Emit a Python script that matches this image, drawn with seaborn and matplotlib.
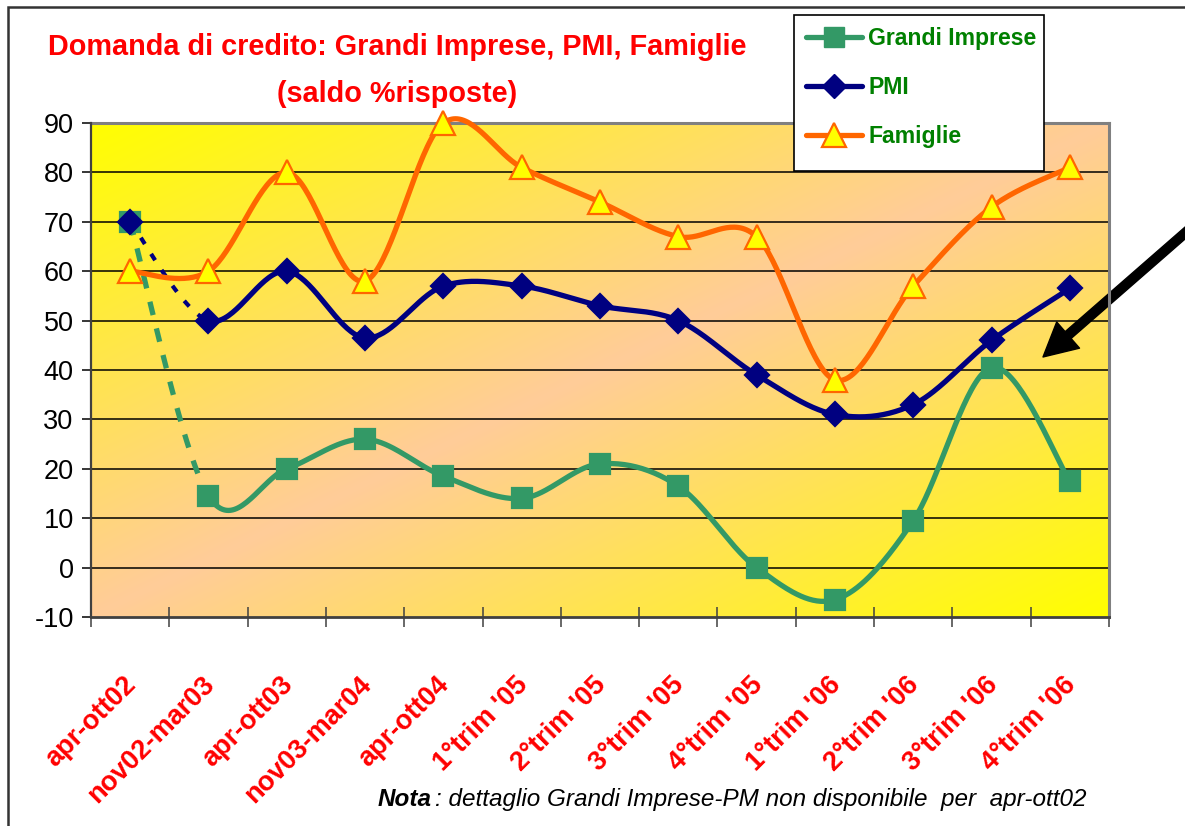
import numpy as np
import pandas as pd
import matplotlib
matplotlib.use("Agg")
import matplotlib.pyplot as plt
import matplotlib.patches as mpatches
from matplotlib.lines import Line2D
from matplotlib.transforms import ScaledTranslation
import seaborn as sns

# ---------------- data ----------------
categories = ["apr-ott02", "nov02-mar03", "apr-ott03", "nov03-mar04", "apr-ott04",
              "1°trim '05", "2°trim '05", "3°trim '05", "4°trim '05",
              "1°trim '06", "2°trim '06", "3°trim '06", "4°trim '06"]
grandi_imprese = [70, 14.5, 20, 26, 18.5, 14, 21, 16.5, 0, -6.5, 9.5, 40.5, 17.5]
pmi = [70, 50, 60, 46.5, 57, 57, 53, 50, 39, 31, 33, 46, 56.5]
famiglie = [60, 60, 80, 58, 90, 81, 74, 67, 67, 38, 57, 73, 81]
y_ticks = [-10, 0, 10, 20, 30, 40, 50, 60, 70, 80, 90]
series_names = ["Grandi Imprese", "PMI", "Famiglie"]
title_line1 = "Domanda di credito: Grandi Imprese, PMI, Famiglie"
title_line2 = "(saldo %risposte)"
note_bold = "Nota"
note_rest = ": dettaglio Grandi Imprese-PM non disponibile  per  apr-ott02"

# ---------------- style ----------------
sns.set_theme(style="white")
plt.rcParams['font.family'] = ['Liberation Sans', 'DejaVu Sans']
FONT = ['Liberation Sans', 'DejaVu Sans']

W, H = 1185, 826
fig = plt.figure(figsize=(W / 100, H / 100), dpi=100)
fig.patch.set_facecolor("white")

ax_l, ax_r, ax_t, ax_b = 91, 1109, 123, 617
ax = fig.add_axes([ax_l / W, 1 - ax_b / H, (ax_r - ax_l) / W, (ax_b - ax_t) / H])

n = len(categories)
xs = np.arange(n)
ax.set_xlim(-0.5, n - 0.5)
ax.set_ylim(-10, 90)

# gradient background (diagonal: yellow corners TL/BR, peach centre)
gx, gy = np.meshgrid(np.linspace(0, 1, 400), np.linspace(1, 0, 300))
u = (gx + (1 - gy)) / 2
tt = 1 - np.abs(2 * u - 1)
yellow = np.array([1.0, 1.0, 0.0])
peach = np.array([1.0, 0.8, 0.6])
img = yellow[None, None, :] * (1 - tt[..., None]) + peach[None, None, :] * tt[..., None]
ax.imshow(img, extent=[-0.5, n - 0.5, -10, 90], aspect='auto', zorder=0, interpolation='bilinear')

# grid
for v in y_ticks[1:-1]:
    ax.axhline(v, color='black', lw=1.1, zorder=1)


def bezier_segments(xv, yv, npts=40):
    P = np.column_stack([xv, yv]).astype(float)
    m = len(P)
    segs = []
    t = np.linspace(0, 1, npts)[:, None]
    for i in range(m - 1):
        p0 = P[max(i - 1, 0)]
        p1 = P[i]
        p2 = P[i + 1]
        p3 = P[min(i + 2, m - 1)]
        c1 = p1 + (p2 - p0) / 6
        c2 = p2 - (p3 - p1) / 6
        seg = (1 - t) ** 3 * p1 + 3 * (1 - t) ** 2 * t * c1 + 3 * (1 - t) * t ** 2 * c2 + t ** 3 * p2
        segs.append(seg)
    return segs


GREEN = "#339966"
NAVY = "#000080"
ORANGE = "#FF6600"
LW = 3.8

specs = [
    (grandi_imprese, GREEN, 's', GREEN, GREEN, 15, True, (0, (2.6, 2.6))),
    (pmi, NAVY, 'D', NAVY, NAVY, 12, True, (0, (1.8, 2.8))),
    (famiglie, ORANGE, '^', "#FFFF00", ORANGE, 17, False, None),
]

z = 3
for vals, col, mk, mfc, mec, ms, dashed_first, dash in specs:
    segs = bezier_segments(xs, vals)
    if dashed_first:
        s0 = segs[0]
        sns.lineplot(x=s0[:, 0], y=s0[:, 1], sort=False, estimator=None, ax=ax,
                     color=col, lw=LW if mk == 's' else 3.0, linestyle=dash, zorder=z)
        rest = np.vstack(segs[1:])
    else:
        rest = np.vstack(segs)
    sns.lineplot(x=rest[:, 0], y=rest[:, 1], sort=False, estimator=None, ax=ax,
                 color=col, lw=LW, zorder=z, solid_capstyle='round', clip_on=False)
    sns.lineplot(x=xs, y=vals, sort=False, estimator=None, ax=ax, color=col,
                 linestyle='', marker=mk, markersize=ms, markerfacecolor=mfc,
                 markeredgecolor=mec, markeredgewidth=1.6, zorder=z + 1, clip_on=False)
    z += 2

# axes styling
for side in ['top', 'right']:
    ax.spines[side].set_color('#808080')
    ax.spines[side].set_linewidth(2.2)
ax.spines['left'].set_color('#404040')
ax.spines['left'].set_linewidth(1.6)
ax.spines['bottom'].set_color('#404040')
ax.spines['bottom'].set_linewidth(2.0)
for side in ['left', 'bottom', 'right']:
    ax.spines[side].set_zorder(20)
ax.spines['top'].set_zorder(2)

ax.set_yticks(y_ticks)
ax.set_yticklabels([str(v) for v in y_ticks])
ax.tick_params(axis='y', which='major', direction='out', length=6.5, width=1.1,
               color='black', pad=6, labelsize=19.5, labelcolor='black', left=True)

ax.set_xticks(xs)
ax.set_xticklabels(categories, rotation=45, ha='right', va='top',
                   rotation_mode='anchor', fontsize=19.5, fontweight='bold', color='red')
ax.set_xticks(np.arange(-0.5, n, 1.0), minor=True)
ax.tick_params(axis='x', which='major', length=0, pad=39.5, bottom=True)
ax.tick_params(axis='x', which='minor', direction='inout', length=14, width=1.1,
               color='#404040', bottom=True)
off = ScaledTranslation(-7 / 100, 0, fig.dpi_scale_trans)
for lab in ax.get_xticklabels():
    lab.set_transform(lab.get_transform() + off)
ax.set_xlabel("")
ax.set_ylabel("")

# title
fig.text(397 / W, 1 - 55 / H, title_line1, ha='center', va='baseline', color='red',
         fontsize=20.8, fontweight='bold', family=FONT)
fig.text(397 / W, 1 - 102 / H, title_line2, ha='center', va='baseline', color='red',
         fontsize=20.8, fontweight='bold', family=FONT)

# legend box
leg_box = mpatches.Rectangle((794 / W, 1 - 171 / H), 250 / W, 156 / H, transform=fig.transFigure,
                             facecolor='white', edgecolor='black', lw=1.2, zorder=30)
fig.add_artist(leg_box)

handles = [
    Line2D([], [], color=GREEN, lw=LW, marker='s', markersize=15, markerfacecolor=GREEN,
           markeredgecolor=GREEN, solid_capstyle='round'),
    Line2D([], [], color=NAVY, lw=LW, marker='D', markersize=12, markerfacecolor=NAVY,
           markeredgecolor=NAVY, solid_capstyle='round'),
    Line2D([], [], color=ORANGE, lw=LW, marker='^', markersize=17, markerfacecolor="#FFFF00",
           markeredgecolor=ORANGE, markeredgewidth=1.6, solid_capstyle='round'),
]
leg = fig.legend(handles, series_names, loc='upper left',
                 bbox_to_anchor=(806 / W, 1 - 27 / H), bbox_transform=fig.transFigure,
                 frameon=False,
                 prop={'family': FONT, 'weight': 'bold', 'size': 16.6},
                 handlelength=2.45, handletextpad=0.25, labelspacing=1.13,
                 borderpad=0, borderaxespad=0, numpoints=1)
leg.set_zorder(31)
for txt in leg.get_texts():
    txt.set_color("#008000")

# note
t1 = fig.text(378 / W, 1 - 806 / H, note_bold, ha='left', va='baseline', fontsize=17.5,
              fontweight='bold', style='italic', color='black', family=FONT)
note2 = plt.annotate(note_rest, xy=(1, 0), xycoords=t1, xytext=(2, 0), textcoords='offset points',
                     ha='left', va='bottom', fontsize=17.5, style='italic', color='black',
                     family=FONT, annotation_clip=False)

# arrow
plt.annotate('', xy=(1043, H - 357), xycoords='figure pixels',
             xytext=(1200, H - 220), textcoords='figure pixels',
             arrowprops=dict(facecolor='black', edgecolor='black', width=6.5,
                             headwidth=25, headlength=24, shrink=0),
             annotation_clip=False)

# chart border
rect = mpatches.Rectangle((8 / W, -0.05), 1.2, (H - 7) / H + 0.05, transform=fig.transFigure,
                          fill=False, edgecolor='#333333', lw=1.8, clip_on=False)
fig.add_artist(rect)

fig.savefig("out.png", dpi=100, facecolor='white')
